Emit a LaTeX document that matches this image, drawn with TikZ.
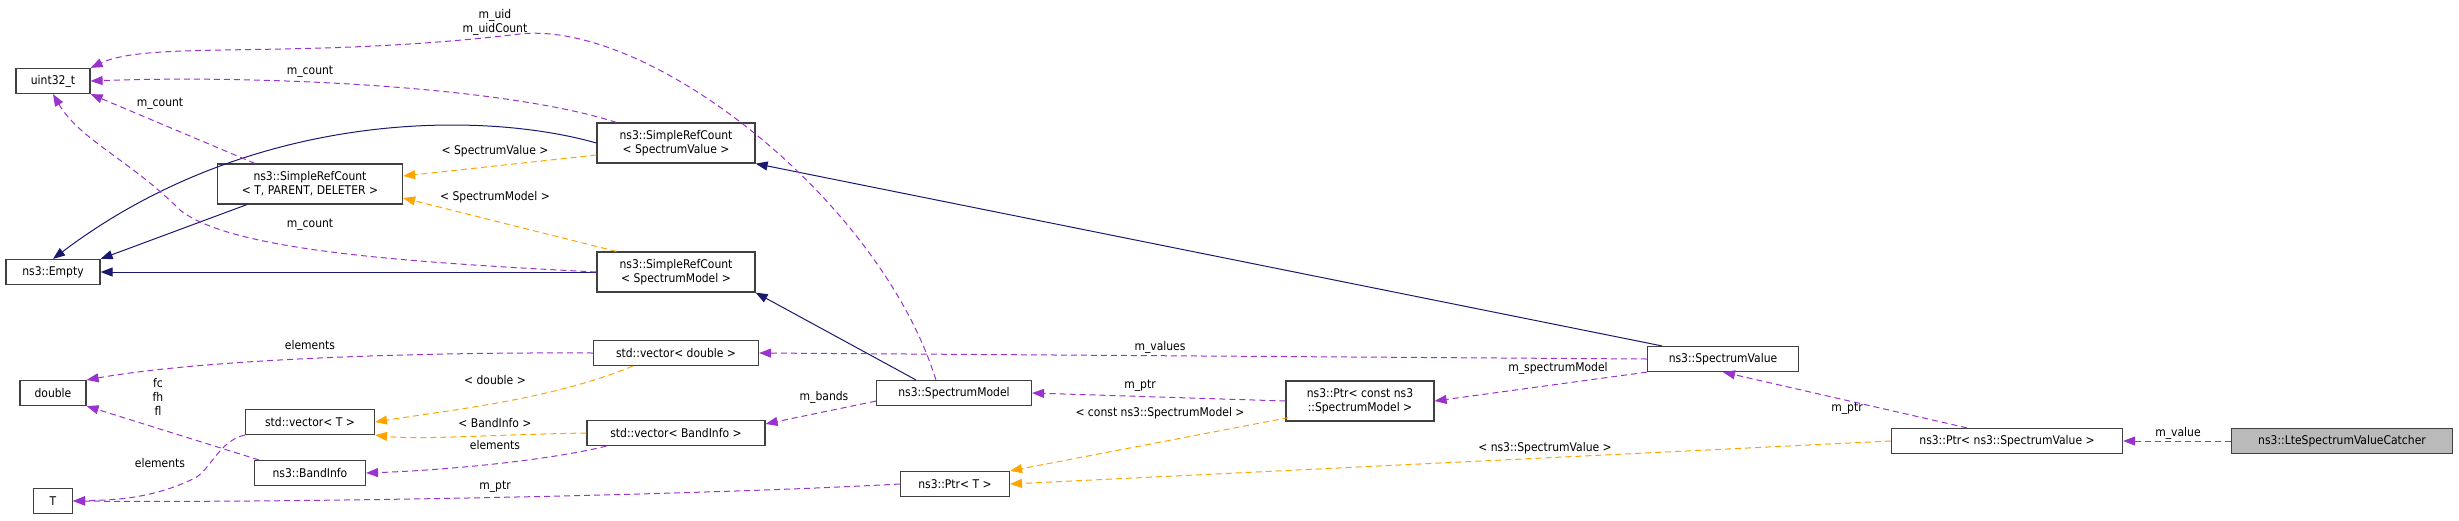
\documentclass[tikz,border=0pt]{standalone}
\usepackage{fontspec}
\setmainfont{DejaVu Sans Condensed}
\usetikzlibrary{arrows.meta}
\definecolor{member}{HTML}{9A32CD}
\definecolor{templ}{HTML}{FFA500}
\definecolor{inher}{HTML}{191970}
\tikzset{
  cls/.style={draw=black!75, line width=1.2pt, fill=white, inner sep=0pt, minimum height=25, align=center, font=\fontsize{12}{14}\selectfont},
  cls2/.style={cls, minimum height=40},
  memb/.style={draw=member, dashed, dash pattern=on 6pt off 4pt, line width=1pt, -{Triangle[length=12pt,width=9pt]}, member},
  tmpl/.style={draw=templ, dashed, dash pattern=on 6pt off 4pt, line width=1pt, -{Triangle[length=12pt,width=9pt]}, templ},
  inh/.style={draw=inher, line width=1pt, -{Triangle[length=12pt,width=9pt]}, inher},
  lbl/.style={font=\fontsize{12}{14}\selectfont, text=black, align=center, inner sep=1pt}
}
\begin{document}
\begin{tikzpicture}[x=1pt,y=-1pt]
\useasboundingbox (0,0) rectangle (2459,520);
% classes
\node[cls, minimum width=74] (uint) at (53,81) {uint32\_t};
\node[cls, minimum width=94] (empty) at (53,272) {ns3::Empty};
\node[cls2, minimum width=185] (srct) at (310,184) {ns3::SimpleRefCount\\{}< T, PARENT, DELETER >};
\node[cls2, minimum width=158] (srcsv) at (676,143) {ns3::SimpleRefCount\\{}< SpectrumValue >};
\node[cls2, minimum width=158] (srcsm) at (676,272) {ns3::SimpleRefCount\\{}< SpectrumModel >};
\node[cls, minimum width=165] (vecd) at (676,353) {std::vector< double >};
\node[cls, minimum width=66] (dbl) at (53,393) {double};
\node[cls, minimum width=129] (vect) at (310,422) {std::vector< T >};
\node[cls, minimum width=178] (vecb) at (676,433) {std::vector< BandInfo >};
\node[cls, minimum width=111] (band) at (310,473) {ns3::BandInfo};
\node[cls, minimum width=39] (tt) at (53,501) {T};
\node[cls, minimum width=155] (smodel) at (954,393) {ns3::SpectrumModel};
\node[cls2, minimum width=148] (ptrc) at (1360,401) {ns3::Ptr< const ns3\\::SpectrumModel >};
\node[cls, minimum width=109] (ptrt) at (955,484) {ns3::Ptr< T >};
\node[cls, minimum width=151] (sval) at (1723,359) {ns3::SpectrumValue};
\node[cls, minimum width=231] (ptrsv) at (2007,441) {ns3::Ptr< ns3::SpectrumValue >};
\node[cls, minimum width=221, fill=black!27] (catcher) at (2342,441) {ns3::LteSpectrumValueCatcher};
% inheritance
\draw[inh] (srcsv.west) .. controls (480,110) and (250,110) .. (empty.north);
\draw[inh] (srct.south west) ++(30,0) -- (empty.north east);
\draw[inh] (srcsm.west) -- (empty.east);
\draw[inh] (sval.north west) ++(15,0) -- (srcsv.south east);
\draw[inh] (smodel.north west) ++(40,0) -- (srcsm.south east);
% members
\draw[memb] (srcsv.north west) ++(20,0) .. controls (500,85) and (250,75) .. (uint.east);
\draw[memb] (smodel.north west) ++(60,0) .. controls (880,200) and (650,20) .. (520,34) .. controls (300,60) and (150,40) .. (uint.north east);
\draw[memb] (srct.north west) ++(38,0) -- (uint.south east);
\draw[memb] (srcsm.west) .. controls (400,262) and (230,250) .. (180,210) .. controls (130,160) and (80,140) .. (uint.south);
\draw[memb] (sval.west) -- (vecd.east);
\draw[memb] (vecd.west) .. controls (400,352) and (200,360) .. (dbl.north east);
\draw[memb] (smodel.south west) ++(0,-5) -- ([yshift=-4pt]vecb.north east);
\draw[memb] (vecb.south west) ++(20,0) .. controls (550,460) and (450,470) .. (band.east);
\draw[memb] (band.north west) ++(5,0) -- (dbl.south east);
\draw[memb] (vect.south west) .. controls (220,440) and (210,470) .. (195,478) .. controls (150,500) and (110,500) .. (tt.east);
\draw[memb] (ptrt.west) .. controls (700,495) and (300,503) .. (tt.east);
\draw[memb] (ptrc.west) -- (smodel.east);
\draw[memb] (sval.south west) -- (ptrc.east);
\draw[memb] (ptrsv.north) ++(-40,0) -- (sval.south);
\draw[memb] (catcher.west) -- (ptrsv.east);
% templates
\draw[tmpl] (srcsv.west) ++(0,12) -- ([yshift=8pt]srct.east);
\draw[tmpl] (srcsm.north west) ++(20,0) -- ([yshift=-14pt]srct.east);
\draw[tmpl] (vecd.south west) ++(40,0) .. controls (550,400) and (450,410) .. (vect.east);
\draw[tmpl] (vecb.west) .. controls (480,435) and (420,440) .. (vect.south east);
\draw[tmpl] (ptrc.south west) ++(3,-4) -- (ptrt.north east);
\draw[tmpl] (ptrsv.west) -- (ptrt.east);
% labels
\node[lbl] (luid) at (495,22) {m\_uid\\m\_uidCount};
\node[lbl] (lc1) at (310,72) {m\_count};
\node[lbl] (lc2) at (160,104) {m\_count};
\node[lbl] (lc3) at (310,225) {m\_count};
\node[lbl] (lsv) at (495,151) {< SpectrumValue >};
\node[lbl] (lsm) at (495,197) {< SpectrumModel >};
\node[lbl] (lval) at (1160,347) {m\_values};
\node[lbl] (lel1) at (310,345) {elements};
\node[lbl] (ld) at (495,380) {< double >};
\node[lbl] (lb) at (495,423) {< BandInfo >};
\node[lbl] (lel2) at (495,445) {elements};
\node[lbl] (lf) at (158,397) {fc\\fh\\fl};
\node[lbl] (lel3) at (160,463) {elements};
\node[lbl] (lptr1) at (495,487) {m\_ptr};
\node[lbl] (lbands) at (824,397) {m\_bands};
\node[lbl] (lptr2) at (1140,386) {m\_ptr};
\node[lbl] (lspm) at (1558,368) {m\_spectrumModel};
\node[lbl] (lcsm) at (1160,413) {< const ns3::SpectrumModel >};
\node[lbl] (lnsv) at (1545,448) {< ns3::SpectrumValue >};
\node[lbl] (lptr3) at (1847,409) {m\_ptr};
\node[lbl] (lv) at (2178,433) {m\_value};
\end{tikzpicture}
\end{document}
